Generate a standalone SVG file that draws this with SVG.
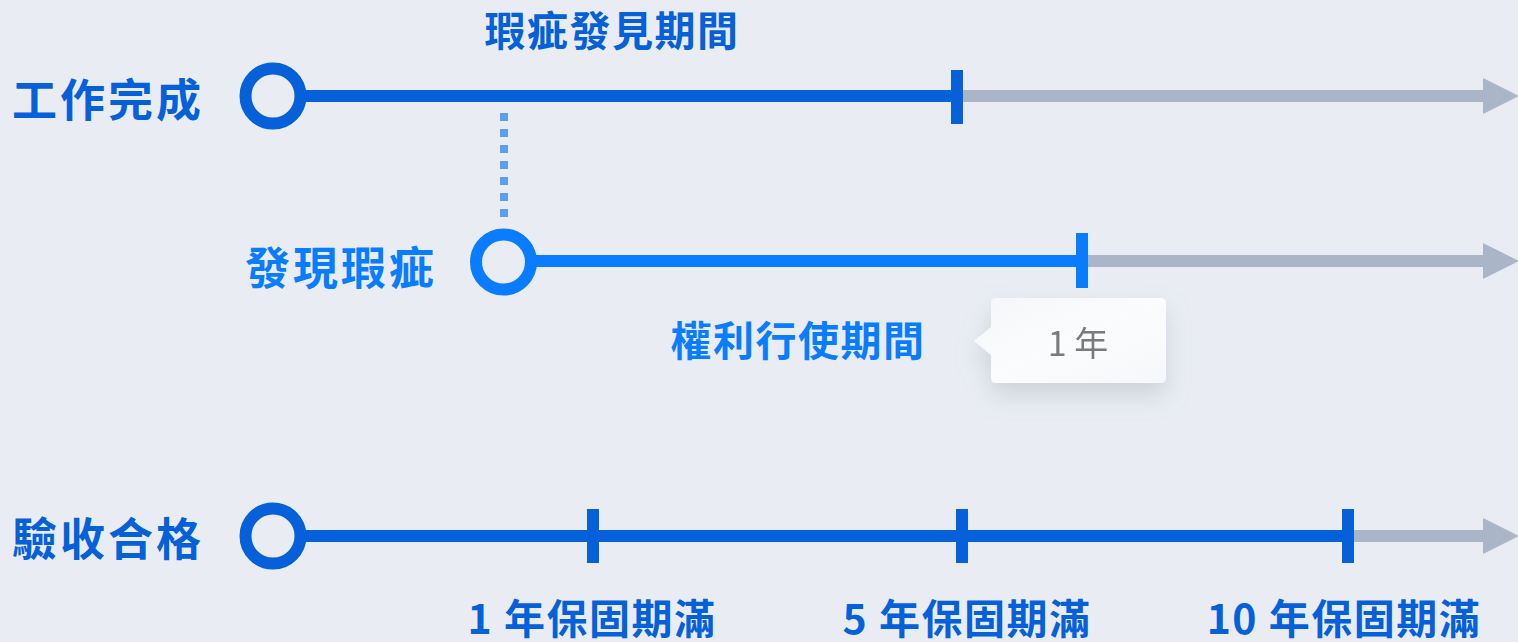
<svg xmlns="http://www.w3.org/2000/svg" width="1518" height="642" viewBox="0 0 1518 642">
<defs>
<style>
.lbl{font-family:"Noto Sans CJK TC","Noto Sans CJK SC",sans-serif;font-weight:700;dominant-baseline:central}
.big{font-size:45px;letter-spacing:3px}
.mid{font-size:41px;letter-spacing:1.5px;text-anchor:middle}
.dk{fill:#0560d9}
.br{fill:#0a7cff}
.gray{stroke:#aab5c7;stroke-width:12;fill:none}
.dkl{stroke:#0560d9;stroke-width:12;fill:none}
.brl{stroke:#0a7cff;stroke-width:12;fill:none}
.tip{font-family:"Noto Sans CJK TC","Noto Sans CJK SC",sans-serif;font-size:34px;font-weight:400;fill:#7a7a7a;text-anchor:middle;dominant-baseline:central}
</style>
<marker id="ah" viewBox="0 0 36 36" refX="0" refY="18" markerWidth="36" markerHeight="36" markerUnits="userSpaceOnUse" orient="auto">
<path d="M0,0 L36,18 L0,36 Z" fill="#aab5c7"/>
</marker>
<filter id="sh" x="-30%" y="-30%" width="160%" height="190%">
<feDropShadow dx="0" dy="12" stdDeviation="12" flood-color="#8a94a6" flood-opacity="0.3"/>
</filter>
<linearGradient id="tg" x1="0" y1="0" x2="1" y2="1">
<stop offset="0" stop-color="#f4f6f9"/>
<stop offset="0.5" stop-color="#fbfcfd"/>
<stop offset="1" stop-color="#f6f7fa"/>
</linearGradient>
</defs>
<rect width="1518" height="642" fill="#e9edf3"/>

<g id="connectors">
<path class="gray" d="M957,96 H1483" marker-end="url(#ah)"/>
<path class="dkl" d="M300,96 H957"/>
<path class="gray" d="M1082,261 H1483" marker-end="url(#ah)"/>
<path class="brl" d="M530,261 H1082"/>
<path class="gray" d="M1348,536 H1483" marker-end="url(#ah)"/>
<path class="dkl" d="M300,536 H1348"/>
<path d="M504,113 V217" stroke="#5a9ef8" stroke-width="8" stroke-dasharray="8 8"/>
</g>

<g id="work-complete">
<circle cx="273" cy="96" r="27.5" fill="none" stroke="#0560d9" stroke-width="12"/>
<line x1="957" y1="70" x2="957" y2="124" stroke="#0560d9" stroke-width="12"/>
<text class="lbl big dk" x="12" y="97">工作完成</text>
<text class="lbl mid dk" x="612" y="28">瑕疵發見期間</text>
</g>

<g id="defect-found">
<circle cx="503.5" cy="262" r="27.5" fill="none" stroke="#0a7cff" stroke-width="12"/>
<line x1="1082" y1="233" x2="1082" y2="288" stroke="#0a7cff" stroke-width="12"/>
<text class="lbl big br" x="245" y="265">發現瑕疵</text>
<text class="lbl mid br" x="798" y="338">權利行使期間</text>
</g>

<g id="tooltip" filter="url(#sh)">
<path d="M996,298 H1161 Q1166,298 1166,303 V378 Q1166,383 1161,383 H996 Q991,383 991,378 V355 L974,341 L991,327 V303 Q991,298 996,298 Z" fill="url(#tg)"/>
<text class="tip" x="1078" y="341">1 年</text>
</g>

<g id="acceptance">
<circle cx="273" cy="536" r="27.5" fill="none" stroke="#0560d9" stroke-width="12"/>
<line x1="593" y1="509" x2="593" y2="563" stroke="#0560d9" stroke-width="12"/>
<line x1="962" y1="509" x2="962" y2="563" stroke="#0560d9" stroke-width="12"/>
<line x1="1348" y1="509" x2="1348" y2="563" stroke="#0560d9" stroke-width="12"/>
<text class="lbl big dk" x="12" y="536">驗收合格</text>
<text class="lbl mid dk" x="592" y="616">1 年保固期滿</text>
<text class="lbl mid dk" x="967" y="616">5 年保固期滿</text>
<text class="lbl mid dk" x="1344" y="616">10 年保固期滿</text>
</g>
</svg>
